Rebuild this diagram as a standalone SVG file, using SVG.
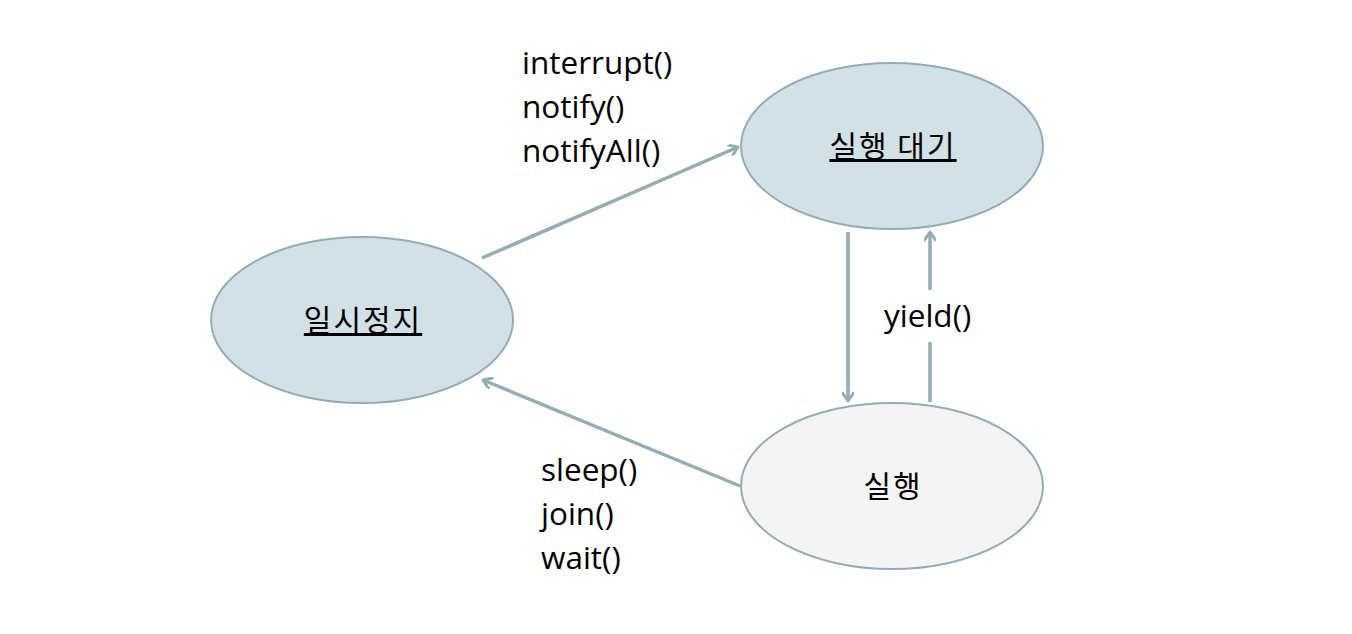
<svg xmlns="http://www.w3.org/2000/svg" width="1352" height="634" viewBox="0 0 1352 634">
<style>
.node{stroke:#92AEB4;stroke-width:2}
.blue{fill:#D1E1E6}
.grey{fill:#F4F4F4}
.ko{font-family:"Noto Sans CJK KR","Noto Sans",sans-serif;font-size:30px;letter-spacing:2px;fill:#000;text-anchor:middle}
.ul{text-decoration:underline}
.lbl{font-family:"Open Sans","Noto Sans",sans-serif;font-size:31.5px;fill:#000}
.edge{stroke:#92AEB4;stroke-width:3.5;fill:none;marker-end:url(#arr)}
</style>
<defs>
<marker id="arr" viewBox="0 0 12 12" refX="10" refY="6" markerWidth="12" markerHeight="12" markerUnits="userSpaceOnUse" orient="auto">
<polyline points="2,0.5 10,6 2,11.5" fill="none" stroke="#92AEB4" stroke-width="3" stroke-linecap="round" stroke-linejoin="round"/>
</marker>
</defs>
<rect width="1352" height="634" fill="#fff"/>
<g id="connectors">
<line class="edge" x1="482" y1="258" x2="738" y2="147"/>
<line class="edge" x1="848" y1="232" x2="848" y2="401"/>
<line x1="930" y1="402" x2="930" y2="342" stroke="#92AEB4" stroke-width="3.5"/>
<line class="edge" x1="930" y1="290" x2="930" y2="232"/>
<line class="edge" x1="740" y1="486" x2="483" y2="380"/>
<text class="lbl" x="522" y="74">interrupt()</text>
<text class="lbl" x="522" y="118">notify()</text>
<text class="lbl" x="522" y="162">notifyAll()</text>
<text class="lbl" x="884" y="327">yield()</text>
<text class="lbl" x="541" y="481">sleep()</text>
<text class="lbl" x="541" y="525">join()</text>
<text class="lbl" x="541" y="569">wait()</text>
</g>
<g id="node-ready">
<ellipse class="node blue" cx="892" cy="146" rx="151" ry="83"/>
<text class="ko ul" x="893" y="157">실행 대기</text>
</g>
<g id="node-paused">
<ellipse class="node blue" cx="362" cy="320" rx="151" ry="83"/>
<text class="ko ul" x="363" y="331">일시정지</text>
</g>
<g id="node-running">
<ellipse class="node grey" cx="892" cy="486" rx="151" ry="83"/>
<text class="ko" x="893" y="497">실행</text>
</g>
</svg>
